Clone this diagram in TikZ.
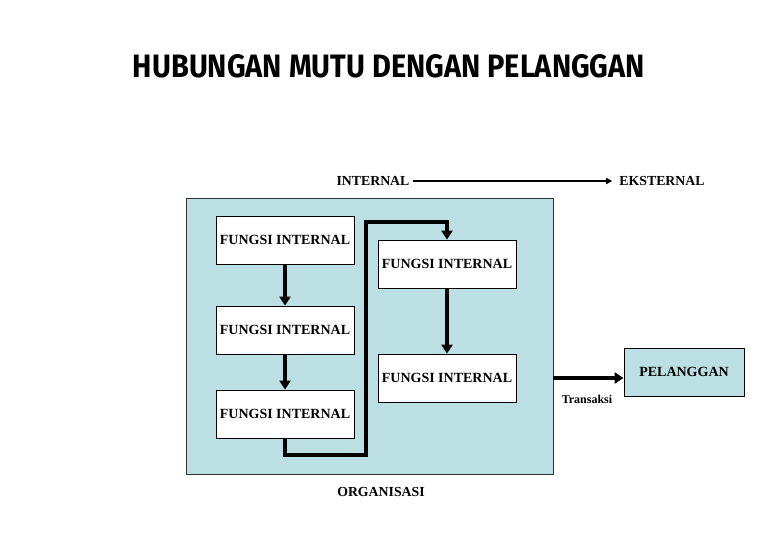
\documentclass[tikz,border=0pt]{standalone}
\usepackage{fontspec}
\setmainfont{Liberation Serif}
\newfontfamily\titlefont{Fira Sans}
\usetikzlibrary{arrows.meta}
\definecolor{orgblue}{RGB}{188,223,227}
\tikzset{
  fungsi/.style={draw=black, line width=0.8pt, fill=white, minimum width=138pt, minimum height=48pt, inner sep=0pt, font=\fontsize{14}{16}\selectfont\bfseries},
  flow/.style={line width=4pt, -{Triangle[length=9pt,width=11pt]}},
  plain/.style={font=\fontsize{13.8}{15}\selectfont\bfseries, inner sep=1pt},
}
\begin{document}
\begin{tikzpicture}[x=1pt,y=-1pt]
\useasboundingbox[fill=white] (0,0) rectangle (780,540);
\node[inner sep=0pt] (title) at (389,66.5) {\resizebox{512pt}{23pt}{\titlefont\bfseries HUBUNGAN MUTU DENGAN PELANGGAN}};
\node[draw=black!80, line width=0.8pt, fill=orgblue, minimum width=367pt, minimum height=276pt, inner sep=0pt] (org) at (369.5,336) {};
\node[fungsi] (b1) at (285,240) {FUNGSI INTERNAL};
\node[fungsi] (b2) at (447,264) {FUNGSI INTERNAL};
\node[fungsi] (b3) at (285,330) {FUNGSI INTERNAL};
\node[fungsi] (b4) at (447,378) {FUNGSI INTERNAL};
\node[fungsi] (b5) at (285,414) {FUNGSI INTERNAL};
\node[draw=black, line width=0.8pt, fill=orgblue, minimum width=120pt, minimum height=48pt, inner sep=0pt, font=\fontsize{14}{16}\selectfont\bfseries] (pel) at (684,372) {PELANGGAN};
\node[plain] (int) at (373,181) {INTERNAL};
\node[plain] (eks) at (662,181) {EKSTERNAL};
\node[plain] (orgl) at (381,492) {ORGANISASI};
\node[font=\fontsize{12}{13}\selectfont\bfseries, inner sep=1pt] (trans) at (587,399) {Transaksi};
\coordinate (lb) at (366,455);
\coordinate (lt) at (366,222);
\coordinate (tr) at (553,378);
\draw[flow] (b1.south) -- (b3.north);
\draw[flow] (b3.south) -- (b5.north);
\draw[flow] (b2.south) -- (b4.north);
\draw[line width=4pt, -{Triangle[length=9pt,width=11pt]}] (b5.south) |- (lb) -- (lt) -| (b2.north);
\draw[flow] (tr) -- (pel.west |- tr);
\draw[line width=1.8pt, -{Triangle[length=6pt,width=6pt]}] (int.east) ++(2,0) -- ([xshift=-6pt]eks.west);
\end{tikzpicture}
\end{document}
